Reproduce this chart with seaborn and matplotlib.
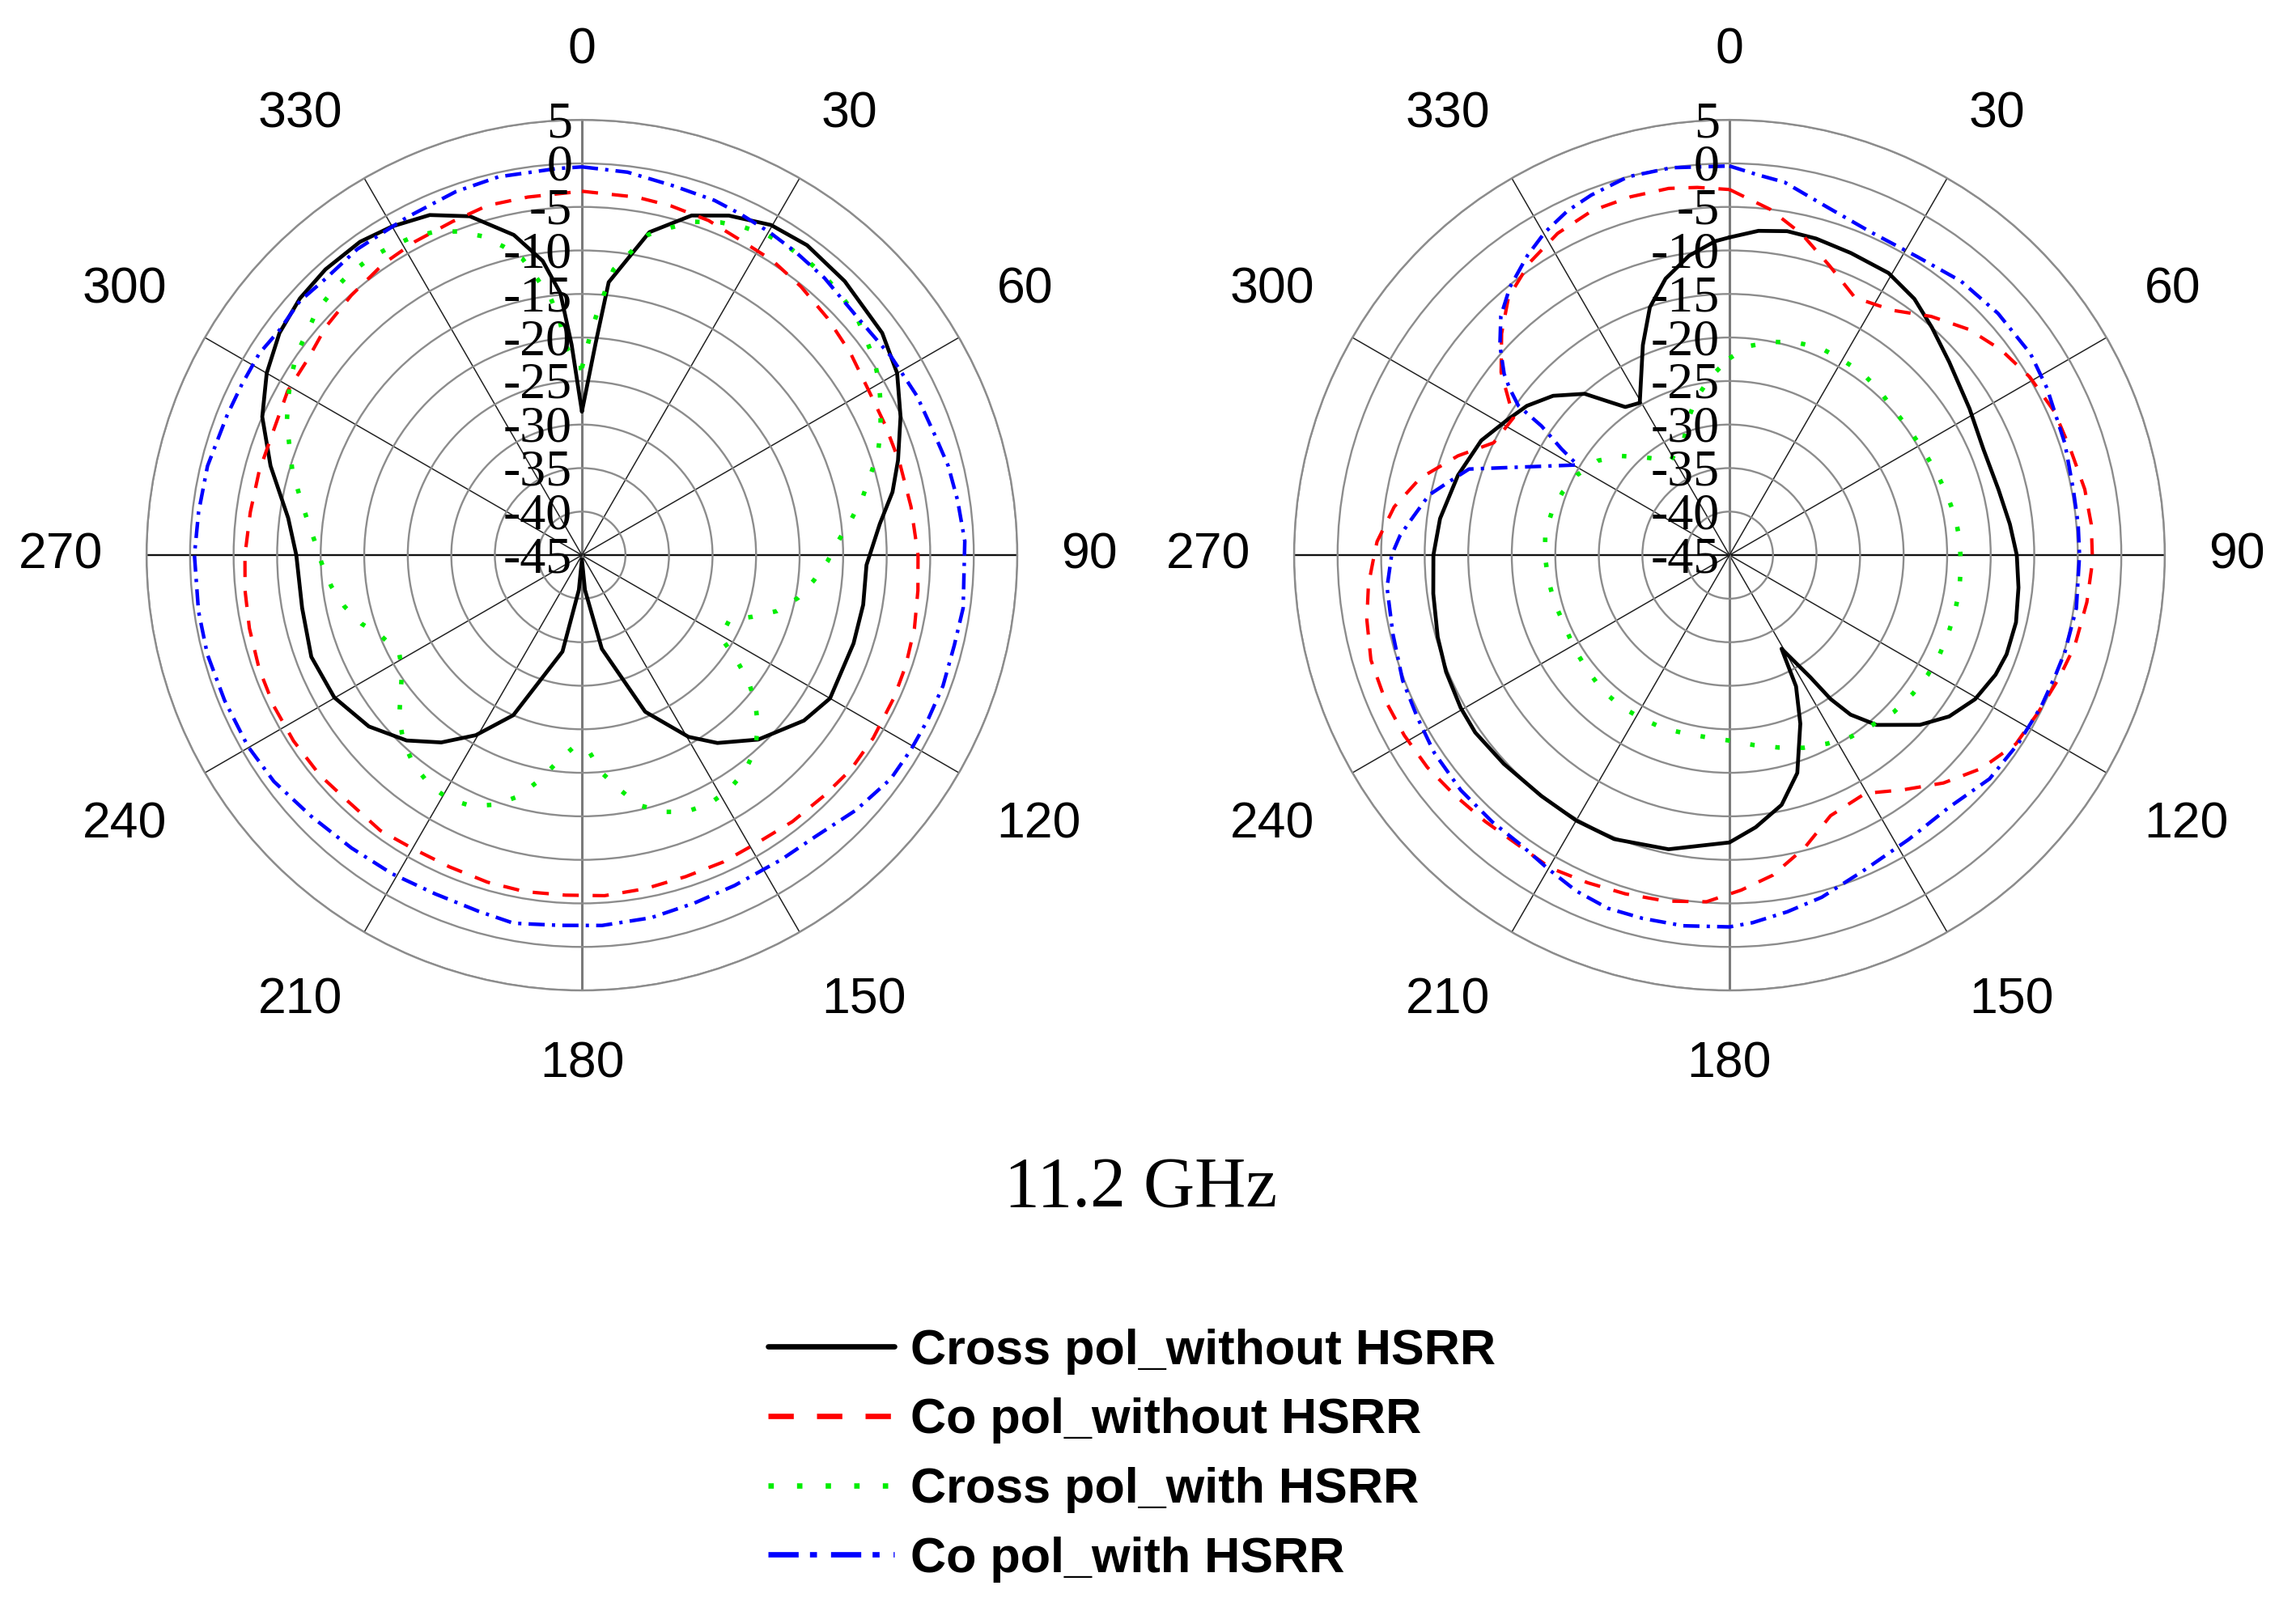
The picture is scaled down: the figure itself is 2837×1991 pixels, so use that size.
import numpy as np
import pandas as pd
import matplotlib
matplotlib.use("Agg")
import matplotlib.pyplot as plt
import matplotlib.transforms as mtransforms
import seaborn as sns

# ---------------- data (angle in degrees, level in dB) ----------------
SERIES_NAMES = ["Cross pol_without HSRR", "Co pol_without HSRR",
                "Cross pol_with HSRR", "Co pol_with HSRR"]
TITLE = "11.2 GHz"
ANGLE_TICKS = [0, 30, 60, 90, 120, 150, 180, 210, 240, 270, 300, 330]
R_TICKS = [5, 0, -5, -10, -15, -20, -25, -30, -35, -40, -45]

# left panel
L_XWO_THETA = [0, 3.7, 5.6, 11.8, 17.9, 23.4, 29.8, 36, 43.8, 53.5, 60, 66.5, 73.3, 78.5, 84, 92, 100,
               108, 120, 126.7, 136.3, 144.2, 149.6, 158, 168, 175, 180, 185, 191.4, 203.2, 210.5,
               216.9, 223.4, 231.2, 240.1, 249.4, 259.3, 270, 277.2, 286, 293.4, 300, 306.3, 312.3,
               318.1, 324.7, 330, 335.9, 341.7, 348, 352.4, 355.3, 357.2, 360]
L_XWO_DB = [-28.5, -20.6, -13.5, -7.1, -4.0, -2.5, -1.3, -1.0, -1.4, -2.1, -3.2, -5.1, -7.1, -8.6, -10.6,
            -12.3, -12.2, -12.2, -12.1, -13.2, -15.7, -18.4, -20.8, -25.6, -34, -41, -44.5, -41, -33.7,
            -25, -21, -18.1, -15.7, -13.6, -12.2, -11.8, -12.3, -12.2, -11, -7.8, -5, -3.2, -1.9, -1.2,
            -0.9, -0.9, -1.4, -2.2, -4.0, -7.4, -10.9, -14.8, -20.8, -28.5]

L_CWO_THETA = [0, 8.7, 14.3, 20.7, 26.8, 32.9, 39.2, 46, 53, 59.7, 66.8, 73.8, 81.6, 90, 96, 102.4, 108.9,
               114.6, 122.1, 128.6, 134.8, 141.7, 148.5, 155.3, 162.1, 169.2, 176.2, 182.8, 189.6, 196.1,
               203, 210, 216.2, 223.4, 230, 237.2, 243.9, 250.6, 257.6, 264, 270, 277.4, 284.5, 291.9,
               299.2, 305.6, 311.7, 318.4, 325.8, 332, 338.8, 344.9, 351.4, 360]
L_CWO_DB = [-3.2, -3.4, -3.6, -3.9, -4.5, -4.7, -5.2, -5.8, -6.4, -7.0, -7.1, -7.0, -6.8, -6.4, -6.2, -5.9,
            -5.7, -5.6, -5.5, -5.5, -5.8, -6.0, -6.3, -6.2, -6.2, -6.0, -5.8, -5.9, -5.8, -5.9, -6.1, -6.1,
            -5.8, -6.0, -5.7, -5.6, -5.6, -5.7, -5.9, -6.1, -6.3, -6.6, -6.7, -6.8, -6.3, -6.3, -5.6, -5.1,
            -4.5, -4.2, -3.9, -3.4, -3.4, -3.2]

L_XW_THETA = [0, 2.2, 3.7, 5.2, 6.3, 9.2, 11.7, 15.2, 18.6, 22.6, 26.2, 30, 33.6, 37.4, 40.9, 44.4, 48.9,
              52.2, 56.1, 59.8, 63.6, 67.2, 71.2, 74.9, 78.7, 82.7, 86.8, 91.5, 96.2, 101.2, 106, 109.9,
              113.7, 120.6, 123.7, 127, 130.3, 134.2, 138.3, 143, 148, 153, 158, 162.6, 167.3, 170.6,
              174.8, 178, 182.3, 186.9, 190.7, 194.6, 199, 203.8, 208.7, 213.2, 218.6, 223.6, 228.3,
              232.4, 237.4, 241.9, 248.3, 252.7, 257.8, 262.9, 268.2, 273.3, 277.7, 282.1, 286.1, 290,
              294, 297.9, 301.6, 305.3, 309.4, 312.6, 316.4, 320.2, 324.3, 327.9, 331.9, 335.6, 339.1,
              342.6, 345.7, 348.6, 350.7, 353.1, 354.6, 355.5, 358.5, 360]
L_XW_DB = [-23.5, -19.6, -16.9, -14.2, -12.0, -9.7, -7.4, -6.0, -4.6, -3.6, -3.0, -2.5, -2.4, -2.4, -2.5,
           -2.8, -3.2, -3.9, -4.6, -5.5, -6.7, -7.8, -9.1, -10.8, -12.2, -13.9, -15.5, -16.8, -18.2, -19.7,
           -21.7, -24.2, -26.5, -26.5, -23.9, -21.1, -18.9, -16.8, -15.1, -13.9, -13.2, -12.9, -13.2,
           -14.1, -15.6, -17.6, -19.9, -22.5, -23.0, -21.0, -18.7, -16.4, -14.7, -13.5, -13.1, -13.3,
           -14.1, -15.3, -16.9, -18.7, -20.5, -21.2, -20.1, -18.5, -17.1, -16.0, -15.1, -14.2, -13.1,
           -11.8, -10.4, -9.3, -7.9, -6.8, -5.8, -4.9, -4.3, -3.6, -3.3, -3.1, -3.1, -3.3, -3.6, -4.2,
           -5.2, -6.6, -8.4, -10.2, -12.7, -15.3, -18.0, -20.7, -23.5, -23.5]

L_CW_THETA = [0, 6.8, 14, 20.5, 25, 30.1, 35.2, 41.2, 48.9, 57.2, 64.6, 71, 76.3, 81.7, 87.9, 97.9, 103.6,
              109.9, 115.2, 120.6, 125.9, 132.9, 140.3, 146.8, 155.2, 162.1, 169.2, 176.9, 183.4, 190.5,
              196.1, 203.4, 210.8, 218.2, 226, 233.7, 240.2, 247.9, 255.2, 261.7, 270, 276.4, 283.4,
              291.5, 296.6, 302, 306.7, 312, 317.2, 323.7, 332.6, 340.9, 347.6, 356.3, 360]
L_CW_DB = [-0.4, -0.7, -1.3, -1.5, -1.8, -2.1, -2.4, -2.7, -3.2, -2.8, -2.4, -2.2, -1.7, -1.4, -1.0, -0.8,
           -1.0, -0.9, -1.0, -1.1, -1.2, -2.0, -3.0, -3.2, -3.2, -3.0, -2.6, -2.4, -2.4, -2.0, -2.4, -2.6,
           -2.4, -2.2, -1.8, -1.1, -0.8, -0.7, -0.5, -0.5, -0.5, -0.7, -0.8, -1.2, -1.3, -1.3, -1.7, -1.4,
           -1.7, -1.4, -1.3, -0.8, -0.5, -0.5, -0.4]

# right panel
R_XWO_THETA = [0, 5.1, 10.1, 15.3, 21.9, 29.4, 35.8, 41.6, 48.7, 58.6, 67.4, 76.3, 83.7, 90, 96.4, 103.2,
               109.7, 114.2, 120.4, 126.3, 131.7, 139.1, 142.8, 144.9, 146.5, 150.9, 153.1, 157.2, 162.7,
               168.2, 174.5, 180, 191.7, 202.1, 210, 218, 227.2, 235.1, 240.4, 247.6, 254.3, 262.6, 270,
               277.2, 286.4, 294.8, 301.2, 306.4, 312.1, 318.1, 321.7, 324.9, 329.5, 334, 337.6, 342.2,
               347, 352.3, 357.4, 360]
R_XWO_DB = [-8.5, -7.6, -7.2, -7.3, -7.6, -7.8, -8.7, -10.0, -11.4, -12.7, -13.4, -13.2, -12.6, -12.0,
            -11.6, -11.2, -11.2, -11.5, -12.3, -13.7, -15.7, -19.2, -22.0, -24.8, -28.2, -32.7, -28.1,
            -24.0, -18.8, -15.7, -13.6, -12.0, -10.5, -9.8, -9.8, -9.9, -9.7, -9.4, -9.5, -9.8, -10.2,
            -10.7, -11.0, -11.5, -12.5, -13.6, -15.1, -16.1, -17.7, -20.1, -22.5, -24.2, -24.7, -21.9,
            -18.9, -15.1, -12.4, -10.3, -8.9, -8.5]

R_CWO_THETA = [0, 6.7, 12.7, 19, 26, 33.7, 40.2, 46.7, 52.9, 59.3, 66.2, 72.7, 79.5, 85.1, 91, 97.5, 104.7,
               110.4, 116.9, 123.4, 130.3, 136.8, 143.6, 150.3, 158.8, 165.6, 172.3, 178, 183.8, 190.4,
               197.1, 203.4, 209.8, 216, 222.5, 228.8, 234.9, 241, 247.1, 253.7, 259.9, 265.3, 270, 272.2,
               278.2, 284, 290.1, 295.5, 302.5, 308.7, 314.2, 319.4, 325.7, 331.9, 338.3, 344.6, 350.6,
               355, 360]
R_CWO_DB = [-3.0, -5.0, -7.2, -9.8, -12.1, -11.2, -9.1, -7.2, -5.9, -4.9, -4.2, -4.0, -3.5, -3.3, -3.3,
            -3.6, -4.0, -4.6, -5.2, -5.6, -7.1, -9.1, -11.5, -13.5, -12.9, -10.3, -7.9, -6.5, -5.1, -4.6,
            -4.3, -4.0, -3.6, -3.8, -3.5, -3.1, -2.6, -2.3, -2.1, -2.1, -2.7, -3.4, -4.2, -4.5, -6.1, -8.4,
            -11.8, -15.0, -15.6, -11.4, -8.5, -6.0, -4.3, -3.1, -2.4, -2.3, -2.3, -2.6, -3.0]

R_XW_THETA = [0, 5.1, 11.5, 17.3, 23.7, 29.9, 35.8, 42, 48.6, 54.8, 61.6, 68.1, 73.9, 80.4, 86.3, 92.4,
              98.4, 104.2, 109.9, 115.6, 121.1, 127, 133.6, 139.9, 146.2, 152.5, 159, 165.7, 172.6, 180,
              185.9, 193.2, 201, 208.8, 215.6, 223.2, 230.9, 238.5, 246.5, 254.5, 262, 270, 276.9, 283.4,
              290.5, 297.6, 305.7, 312.4, 319.3, 327.9, 337.8, 342.8, 348, 354, 360]
R_XW_DB = [-22.4, -20.9, -20.0, -19.4, -19.0, -19.1, -19.1, -19.4, -19.8, -19.8, -19.7, -19.4, -19.1,
           -18.7, -18.5, -18.4, -18.3, -18.3, -18.3, -18.3, -18.4, -18.6, -18.9, -19.5, -19.9, -20.6,
           -21.3, -22.2, -23.0, -23.7, -23.9, -23.9, -23.7, -23.7, -23.6, -23.7, -24.0, -24.2, -24.4,
           -24.2, -24.0, -23.8, -23.7, -24.0, -24.5, -25.2, -26.4, -28.1, -30.2, -32.2, -31.0, -28.8,
           -26.6, -24.4, -22.4]

R_CW_THETA = [0, 4.3, 8.4, 15.8, 23.7, 32.2, 40.2, 48, 56.2, 62.3, 71.6, 79.2, 84.9, 90, 98.7, 106, 110.1,
              115.8, 123.1, 130.7, 139, 147.8, 157.2, 164.9, 170.8, 176.4, 180, 187.1, 193.4, 199, 204.5,
              210.2, 215.7, 221.6, 228.8, 236.2, 242.5, 249, 256.8, 264.6, 270, 273.4, 276.6, 281.3, 284.1,
              288.3, 300.7, 302.3, 304.5, 305.3, 307.2, 308.8, 312.4, 316.3, 320.7, 326, 330.2, 334.8,
              339, 345, 351.5, 360]
R_CW_DB = [-0.3, -1.2, -1.7, -3.5, -4.5, -4.5, -3.8, -3.5, -3.4, -3.8, -4.4, -4.8, -4.8, -4.8, -4.7, -4.9,
           -5.1, -5.2, -5.4, -5.6, -6.6, -6.4, -5.6, -4.3, -3.5, -2.7, -2.3, -2.1, -2.1, -2.1, -2.6, -3.4,
           -4.0, -4.0, -4.0, -4.2, -4.6, -4.8, -5.3, -5.5, -6.2, -7.1, -8.3, -9.8, -11.4, -13.5, -24.7,
           -22.2, -18.8, -15.3, -13.3, -11.8, -9.3, -7.0, -5.2, -3.5, -2.3, -1.3, -0.7, 0.0, 0.0, -0.3]

LEFT = [(L_XWO_THETA, L_XWO_DB), (L_CWO_THETA, L_CWO_DB), (L_XW_THETA, L_XW_DB), (L_CW_THETA, L_CW_DB)]
RIGHT = [(R_XWO_THETA, R_XWO_DB), (R_CWO_THETA, R_CWO_DB), (R_XW_THETA, R_XW_DB), (R_CW_THETA, R_CW_DB)]

# ---------------- styles ----------------
COLORS = ["#000000", "#ff0000", "#00ee00", "#0000ff"]
PLOT_LWS = [1.7, 1.5, 2.0, 1.6]
PLOT_DASHES = [None, (4.8, 4.1), (1.0, 4.6), (4.5, 2.0, 0.9, 2.0)]
LEG_DASHES = [None, (4.7, 4.3), (1.0, 4.3), (5.6, 2.1, 1.3, 2.6)]
LEG_LW = 2.4

sns.set_theme(style="white")
plt.rcParams["font.family"] = ["Liberation Sans", "DejaVu Sans"]
plt.rcParams["text.color"] = "black"

DPI = 200
fig = plt.figure(figsize=(2837 / DPI, 1991 / DPI), dpi=DPI)
fig.patch.set_facecolor("white")

GRID_GRAY = "#8c8c8c"
RMIN, RMAX = -45, 5
ANGLE_LABEL_R = 10.0  # radius (in dB units) where the angle-label corner is anchored


def draw_panel(rect, series):
    ax = fig.add_axes(rect, projection="polar")
    ax.set_facecolor("white")
    ax.set_theta_zero_location("N")
    ax.set_theta_direction(-1)
    for (th, db), col, lw, dsh in zip(series, COLORS, PLOT_LWS, PLOT_DASHES):
        df = pd.DataFrame({"theta": np.deg2rad(th), "db": db})
        sns.lineplot(data=df, x="theta", y="db", ax=ax, sort=False, estimator=None,
                     color=col, linewidth=lw, legend=False)
        line = ax.lines[-1]
        if dsh is not None:
            line.set_dashes(dsh)
            line.set_dash_capstyle("butt")
    ax.set_xlabel("")
    ax.set_ylabel("")
    ax.set_ylim(RMIN, RMAX)
    ax.set_rgrids(R_TICKS[:-1], labels=[""] * (len(R_TICKS) - 1))
    ax.set_thetagrids(ANGLE_TICKS, labels=[""] * len(ANGLE_TICKS))
    ax.tick_params(axis="x", length=0)
    ax.set_axisbelow(True)
    ax.yaxis.grid(True, color=GRID_GRAY, linewidth=0.85, linestyle="-")
    ax.xaxis.grid(True, color="#222222", linewidth=0.55, linestyle="-")
    ax.spines["polar"].set_color(GRID_GRAY)
    ax.spines["polar"].set_linewidth(0.85)
    gl = ax.xaxis.get_gridlines()
    for i, g in enumerate(gl):
        a = ANGLE_TICKS[i]
        if a in (0, 180):
            g.set_color("#7a7a7a")
            g.set_linewidth(1.1)
        elif a in (90, 270):
            g.set_color("#111111")
            g.set_linewidth(0.85)
    # angle labels, corner-anchored outside the outer ring
    up = mtransforms.offset_copy(ax.transData, fig=fig, x=0, y=3, units="dots")
    down = mtransforms.offset_copy(ax.transData, fig=fig, x=0, y=-8, units="dots")
    for a in ANGLE_TICKS:
        s, c = np.sin(np.deg2rad(a)), np.cos(np.deg2rad(a))
        ha = "left" if s > 1e-6 else ("right" if s < -1e-6 else "center")
        va = "bottom" if c > 1e-6 else ("top" if c < -1e-6 else "center")
        tr = up if c > 1e-6 else (down if c < -1e-6 else ax.transData)
        ax.text(np.deg2rad(a), ANGLE_LABEL_R, str(a), ha=ha, va=va, fontsize=22.5, transform=tr,
                family=["Liberation Sans", "DejaVu Sans"], color="black", clip_on=False)
    # radial labels along the 0 deg spoke
    trans = mtransforms.offset_copy(ax.transData, fig=fig, x=-12, y=-6, units="dots")
    for v in R_TICKS:
        ax.text(0.0, v, str(v), transform=trans, ha="right", va="center",
                fontsize=23, family=["Liberation Serif", "DejaVu Serif"], color="black",
                clip_on=False, zorder=5)
    return ax


axL = draw_panel([0.0638, 0.3852, 0.3793, 0.5404], LEFT)
axR = draw_panel([0.5636, 0.3852, 0.3793, 0.5404], RIGHT)

fig.text(0.497, 0.262, TITLE, ha="center", va="center", fontsize=31.5,
         family=["Liberation Serif", "DejaVu Serif"], color="black")

handles = axL.lines[:4]
leg = fig.legend(handles, SERIES_NAMES, loc="upper left", bbox_to_anchor=(0.3345, 0.1755),
                 frameon=False, prop={"family": "Liberation Sans", "weight": "bold", "size": 22},
                 handlelength=2.55, handletextpad=0.33, labelspacing=0.47, borderpad=0,
                 borderaxespad=0)
for t in leg.get_texts():
    t.set_color("black")
for ln, dsh in zip(leg.get_lines(), LEG_DASHES):
    ln.set_linewidth(LEG_LW)
    if dsh is not None:
        ln.set_dashes(dsh)
        ln.set_dash_capstyle("butt")

fig.savefig("out.png", dpi=DPI, facecolor="white")
